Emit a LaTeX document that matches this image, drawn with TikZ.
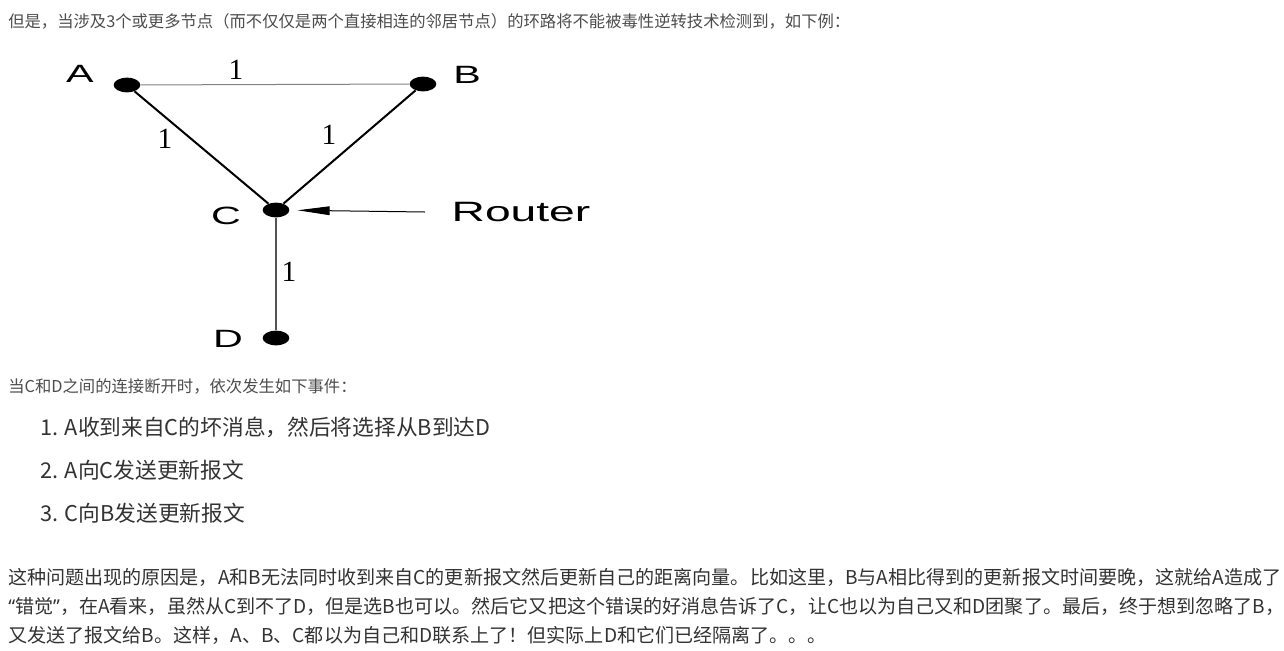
\documentclass[tikz,border=0pt]{standalone}
\usepackage{fontspec}
\usepackage{xcolor}
\usepackage{graphicx}
\usepackage{tikz}
\usetikzlibrary{shapes.geometric,arrows.meta}
\newfontfamily\cjk{Noto Sans CJK SC}
\newfontfamily\labelfont{Liberation Sans}
\newfontfamily\edgefont{Liberation Serif}
\newfontfamily\quotefont{Noto Sans}
\definecolor{textgray}{RGB}{77,77,77}
\definecolor{textdark}{RGB}{51,51,51}
\definecolor{thingray}{RGB}{130,130,130}
\definecolor{stemgray}{RGB}{85,85,85}
\newcommand{\stretchlbl}[1]{\scalebox{1.65}[1]{#1}}

\tikzset{
  dot/.style={ellipse, fill=black, inner sep=0pt, minimum width=20pt, minimum height=11pt},
  letter/.style={inner sep=0pt, font=\labelfont\fontsize{18.75}{18.75}\selectfont},
  weight/.style={inner sep=0pt, font=\edgefont\fontsize{22}{22}\selectfont},
  smalltext/.style={anchor=west, inner sep=0pt, text=textgray, font=\cjk\fontsize{12.25}{12.25}\selectfont},
  itemtext/.style={anchor=west, inner sep=0pt, text=textdark, font=\cjk\fontsize{16.3}{16.3}\selectfont},
  paratext/.style={anchor=west, inner sep=0pt, text=textdark, font=\cjk\fontsize{14.3}{14.3}\selectfont},
}

\begin{document}
\begin{tikzpicture}[x=0.75pt,y=0.75pt,yscale=-1,xscale=1]
\useasboundingbox (0,0) rectangle (1284,650);
\fill[white] (0,0) rectangle (1284,650);

% Text Node
\node[smalltext] (intro) at (8,21) {但是，当涉及3个或更多节点（而不仅仅是两个直接相连的邻居节点）的环路将不能被毒性逆转技术检测到，如下例：};

% Dots
\node[dot] (A) at (127,85) {};
\node[dot] (B) at (423,84) {};
\node[dot] (C) at (276,210) {};
\node[dot] (D) at (276,338) {};

% Links
\draw[thingray, line width=0.75pt] (A) -- (B);
\draw[black, line width=1.5pt] (A) -- (C);
\draw[black, line width=1.5pt] (B) -- (C);
\draw[stemgray, line width=1.6pt] (C) -- (D);

% Letters
\node[letter] (lblA) at (80,74) {\stretchlbl{A}};
\node[letter] (lblB) at (467,75) {\stretchlbl{B}};
\node[letter] (lblC) at (226,216) {\stretchlbl{C}};
\node[letter] (lblD) at (228,339) {\stretchlbl{D}};

% Weights
\node[weight] (wAB) at (236,70) {1};
\node[weight] (wAC) at (165,139) {1};
\node[weight] (wBC) at (329,135) {1};
\node[weight] (wCD) at (289,272) {1};

% Router pointer
\node[inner sep=0pt, font=\labelfont\fontsize{21}{21}\selectfont] (router) at (521,212) {\stretchlbl{Router}};
\coordinate (tail) at (425,212);
\draw[line width=0.75pt, -{Triangle[length=24pt,width=6.5pt]}, shorten >=6pt] (tail) -- (C);

% Text Node
\node[smalltext] (cause) at (8,386) {当C和D之间的连接断开时，依次发生如下事件：};
\node[itemtext] (step1) at (40,427) {1. A收到来自C的坏消息，然后将选择从B到达D};
\node[itemtext] (step2) at (40,470) {2. A向C发送更新报文};
\node[itemtext] (step3) at (40,513) {3. C向B发送更新报文};

% Text Node
\node[paratext] (para1) at (8,577) {这种问题出现的原因是，A和B无法同时收到来自C的更新报文然后更新自己的距离向量。比如这里，B与A相比得到的更新报文时间要晚，这就给A造成了};
\node[paratext] (para2) at (8,606) {{\quotefont “}错觉{\quotefont ”}，在A看来，虽然从C到不了D，但是选B也可以。然后它又把这个错误的好消息告诉了C，让C也以为自己又和D团聚了。最后，终于想到忽略了B，};
\node[paratext] (para3) at (8,635) {又发送了报文给B。这样，A、B、C都以为自己和D联系上了！但实际上D和它们已经隔离了。。。};

\end{tikzpicture}
\end{document}
